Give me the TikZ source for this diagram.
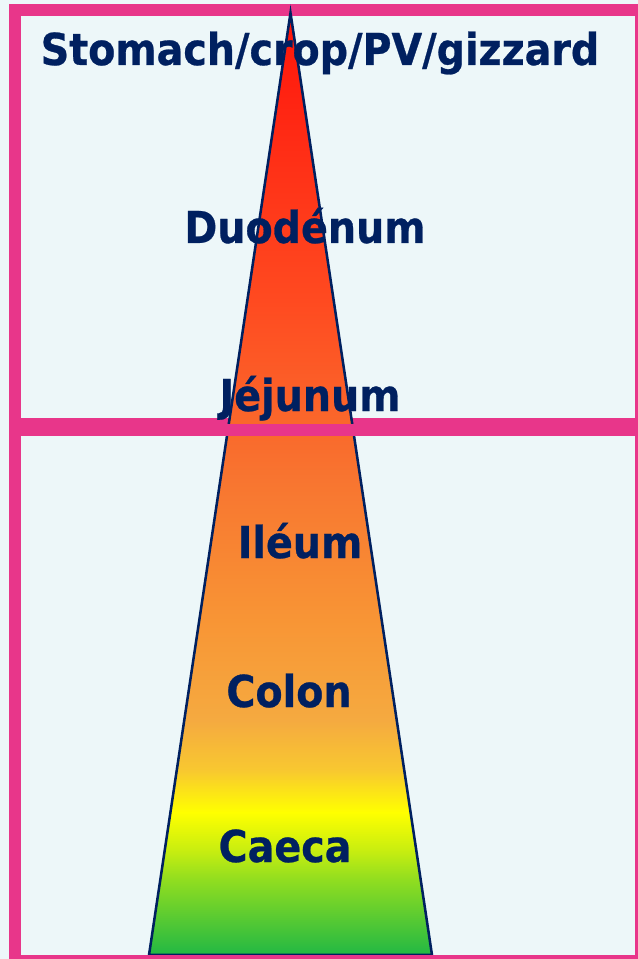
\documentclass[tikz,border=0pt]{standalone}
\usepackage{fontspec}
\setmainfont{DejaVu Sans}[FakeStretch=0.9, BoldFeatures={FakeBold=0.6}]
\usepackage{tikz}
\usetikzlibrary{positioning}

\definecolor{bgcyan}{HTML}{EDF7F9}
\definecolor{framepink}{HTML}{E8368A}
\definecolor{labnavy}{HTML}{002060}
\definecolor{gRed}{HTML}{FF1508}
\definecolor{gRedA}{HTML}{FF2412}
\definecolor{gRedB}{HTML}{FF4A20}
\definecolor{gOrA}{HTML}{F87530}
\definecolor{gOrB}{HTML}{F89535}
\definecolor{gOrC}{HTML}{F5AA40}
\definecolor{gOrD}{HTML}{F8C830}
\definecolor{gYel}{HTML}{FFFF00}
\definecolor{gLime}{HTML}{C8EE10}
\definecolor{gGrA}{HTML}{90DD20}
\definecolor{gGreen}{HTML}{22B844}

\pgfdeclareverticalshading{gut}{100bp}{
  color(0bp)=(gGreen); color(25bp)=(gGreen); color(28.98bp)=(gGrA);
  color(30.57bp)=(gLime); color(32.58bp)=(gYel); color(34.81bp)=(gOrD);
  color(37.46bp)=(gOrC); color(42.76bp)=(gOrB); color(50.19bp)=(gOrA);
  color(59.73bp)=(gRedB); color(70.33bp)=(gRedA); color(75bp)=(gRed);
  color(100bp)=(gRed)}

\begin{document}
\begin{tikzpicture}[
  x=0.75pt, y=-0.75pt,
  frame/.style={draw=framepink, line width=9pt},
  tube/.style={draw=labnavy, line width=1.9pt, shading=gut},
  lab/.style={text=labnavy, font=\bfseries\fontsize{33}{36}\selectfont,
              anchor=base, inner sep=0pt}
]
\useasboundingbox (0,0) rectangle (638,959);
\fill[bgcyan] (0,0) rectangle (638,959);

% upper box sits under the tube, lower box over it
\draw[frame] (15,10) rectangle (641,424);
\coordinate (apex) at (290.5,13);
\coordinate (bl) at (149,955);
\coordinate (br) at (432,955);
\path[tube] (apex) -- (br) -- (bl) -- cycle;
\draw[frame] (15,430) rectangle (641,961);

\node[lab] (stomach) at (320,65)  {Stomach/crop/PV/gizzard};
\node[lab] (duo)     at (305,243) {Duodénum};
\node[lab] (jej)     at (310,411) {Jéjunum};
\node[lab] (ile)     at (300,558) {Iléum};
\node[lab] (colon)   at (289,707) {Colon};
\node[lab] (caeca)   at (285,862) {Caeca};
\end{tikzpicture}
\end{document}
